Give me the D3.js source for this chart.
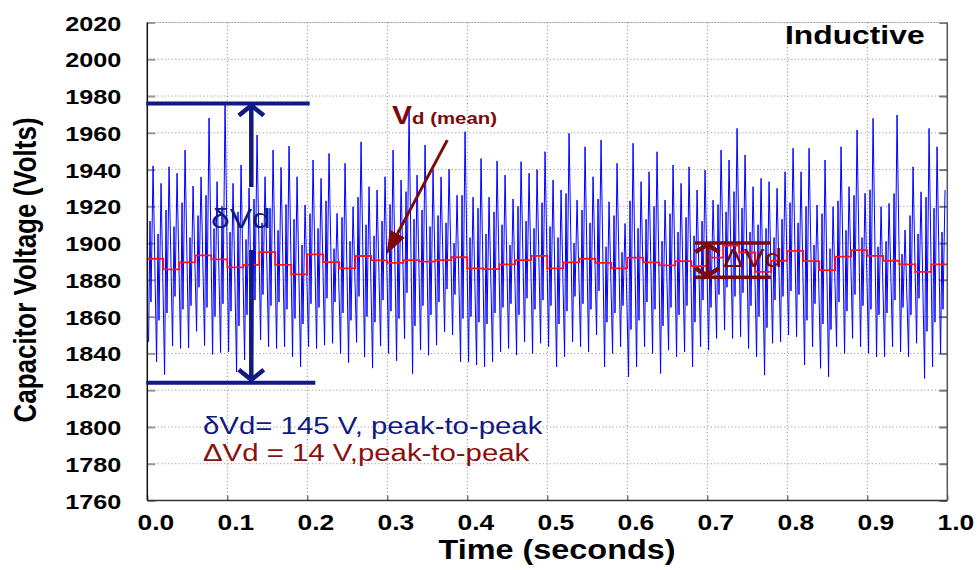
<!DOCTYPE html>
<html>
<head>
<meta charset="utf-8">
<script src="https://cdn.jsdelivr.net/npm/d3@7"></script>
<style>
  body { margin: 0; background: #fff; }
  svg { display: block; }
  text { font-family: "Liberation Sans", Arial, Helvetica, sans-serif; }
</style>
</head>
<body>
<svg id="chart" width="980" height="570"></svg>
<script>
// ---- data -------------------------------------------------------------
const xTicks = [0.0, 0.1, 0.2, 0.3, 0.4, 0.5, 0.6, 0.7, 0.8, 0.9, 1.0];
const yTicks = [1760, 1780, 1800, 1820, 1840, 1860, 1880, 1900, 1920, 1940, 1960, 1980, 2000, 2020];

// capacitor voltage, per 10 ms ripple cycle (V):
// trough, secondary crest, secondary dip, main crest
const cyclePeriod = 0.01;
const rippleTroughs = [
  1846.3, 1835.5, 1828.5, 1844, 1842.7, 1843, 1852, 1844.3, 1839.5, 1840.5,
  1840.9, 1830, 1836.4, 1840, 1847.3, 1843.6, 1842.7, 1843.6, 1838.2, 1832.7,
  1843.6, 1842.7, 1844.5, 1845.5, 1840, 1835, 1846, 1838, 1832, 1844,
  1840, 1836, 1848, 1829, 1842, 1839, 1844.5, 1851.8, 1850, 1835.5,
  1835.5, 1833.7, 1832.7, 1835.5, 1840.9, 1842.7, 1839.1, 1846.3, 1840, 1845.5,
  1843.6, 1832.7, 1838.2, 1846.3, 1843.6, 1840.9, 1850, 1832.7, 1840, 1843.6,
  1827.3, 1832.7, 1843.6, 1840, 1829.1, 1841.8, 1838.2, 1840.9, 1832.7, 1843.6,
  1841.8, 1848.2, 1852.7, 1848.2, 1849.1, 1842.7, 1838.2, 1828.2, 1845.5, 1846.3,
  1850, 1849.1, 1833.7, 1843.6, 1831.9, 1827.3, 1843.6, 1840, 1848.2, 1843.6,
  1840, 1838.2, 1838.2, 1843.6, 1840.9, 1838.2, 1845.5, 1826.4, 1832.7, 1840
];
const secondaryCrests = [
  1912, 1905, 1918, 1909, 1922, 1903, 1915, 1926, 1908, 1920,
  1906, 1917, 1902, 1924, 1911, 1919, 1907, 1921, 1913, 1899,
  1916, 1908, 1923, 1897, 1914, 1901, 1925, 1910, 1904, 1912,
  1921, 1907, 1928, 1913, 1918, 1909, 1915, 1911, 1900, 1926,
  1903, 1919, 1905, 1917, 1910, 1899, 1920, 1912, 1908, 1922,
  1909, 1903, 1927, 1900, 1918, 1911, 1924, 1898, 1915, 1895,
  1923, 1908, 1913, 1920, 1901, 1916, 1906, 1914, 1904, 1912,
  1898, 1921, 1917, 1928, 1919, 1906, 1910, 1908, 1903, 1913,
  1922, 1911, 1920, 1899, 1916, 1897, 1923, 1907, 1926, 1903,
  1929, 1898, 1901, 1927, 1894, 1915, 1905, 1925, 1919, 1906
];
const secondaryDips = [
  1868, 1858, 1862, 1871, 1864, 1866, 1876, 1865, 1860, 1867,
  1863, 1855, 1861, 1869, 1872, 1866, 1868, 1864, 1859, 1856,
  1867, 1865, 1870, 1868, 1862, 1858, 1871, 1860, 1857, 1869,
  1863, 1859, 1873, 1855, 1866, 1861, 1868, 1875, 1872, 1859,
  1860, 1857, 1856, 1862, 1865, 1867, 1861, 1870, 1864, 1869,
  1866, 1856, 1863, 1871, 1867, 1864, 1874, 1857, 1862, 1866,
  1853, 1858, 1868, 1864, 1855, 1865, 1861, 1866, 1857, 1869,
  1865, 1872, 1876, 1871, 1873, 1866, 1860, 1854, 1869, 1871,
  1874, 1872, 1858, 1867, 1856, 1853, 1868, 1863, 1872, 1866,
  1864, 1861, 1862, 1869, 1865, 1861, 1870, 1852, 1857, 1864
];
const ripplePeaks = [
  1942, 1932.5, 1941.5, 1938, 1950.6, 1931, 1936, 1968, 1933.4, 1975.5,
  1932.5, 1942.5, 1930, 1958.8, 1936.1, 1950.6, 1941.2, 1952.8, 1936.1, 1920.7,
  1945.2, 1935.2, 1948.8, 1916.2, 1943.4, 1919.8, 1955.1, 1930.7, 1928.9, 1936.1,
  1950.6, 1934.3, 1973.3, 1937, 1953.4, 1940, 1936, 1940.2, 1926, 1960.6,
  1925, 1946, 1925, 1944.7, 1937, 1924, 1944.3, 1938, 1940, 1949.7,
  1934.3, 1928.9, 1959.7, 1923.4, 1952.4, 1936.1, 1956.1, 1922.5, 1943.4, 1910.7,
  1954.3, 1933.4, 1938.8, 1949.7, 1923.4, 1942.5, 1932.5, 1941.5, 1928.9, 1939.7,
  1923.4, 1950.6, 1945.2, 1962.4, 1947.9, 1930.7, 1935.2, 1933.4, 1929.8, 1938.8,
  1951.6, 1938.8, 1951.6, 1920.7, 1945.2, 1919.8, 1952.4, 1930.7, 1961.5, 1927.1,
  1967.9, 1919.8, 1921.6, 1969.7, 1907.1, 1941.5, 1927.9, 1962.4, 1952.4, 1928.9
];
// position of each sample inside its cycle (fraction of the period)
const cyclePhases = [0.16, 0.34, 0.46, 0.72];

// mean capacitor voltage, held for 20 ms windows (V)
const meanWindow = 0.02;
const meanLevels = [
  1891.5, 1885.7, 1889.5, 1893.3, 1891.2, 1886.8, 1888.2, 1895.1, 1888.2, 1883.0,
  1893.9, 1889.7, 1886.3, 1893.0, 1890.6, 1889.3, 1890.8, 1889.9, 1890.8, 1892.3,
  1886.3, 1885.9, 1888.4, 1890.8, 1893.1, 1886.3, 1889.5, 1891.5, 1889.2, 1886.3,
  1892.1, 1889.5, 1887.9, 1890.2, 1887.5, 1892.1, 1898.6, 1894.9, 1884.4, 1890.4,
  1895.8, 1890.2, 1885.3, 1892.6, 1896.2, 1893.1, 1890.4, 1888.4, 1884.4, 1888.4
];

// annotation levels (V)
const rippleBand = [1976, 1824];   // δVd bracket
const meanBand = [1900, 1881.5];   // ΔVd bracket

// ---- layout -----------------------------------------------------------
const svg = d3.select("#chart");
const x = d3.scaleLinear().domain([0, 1]).range([147.3, 947.3]);
const y = d3.scaleLinear().domain([1760, 2020]).range([500.5, 22.5]);
const SX = 1.2; // horizontal text stretch

const navy = "#101a80";
const maroon = "#7d0a0a";

// gridlines
const grid = svg.append("g");
grid.selectAll("line.h").data(yTicks.slice(1, -1)).join("line")
  .attr("x1", x(0)).attr("x2", x(1))
  .attr("y1", d => y(d)).attr("y2", d => y(d))
  .attr("stroke", "#8a8a8a").attr("stroke-width", 1).attr("stroke-dasharray", "1,2.5");
grid.selectAll("line.v").data(xTicks.slice(1, -1)).join("line")
  .attr("x1", d => x(d)).attr("x2", d => x(d))
  .attr("y1", y(2020)).attr("y2", y(1760))
  .attr("stroke", "#8a8a8a").attr("stroke-width", 1).attr("stroke-dasharray", "1,2.5");

// inside tick marks
svg.append("g").attr("transform", `translate(${x(0)},0)`)
  .call(d3.axisRight(y).tickValues(yTicks).tickSize(8).tickFormat(""))
  .call(g => g.select(".domain").remove())
  .call(g => g.selectAll("line").attr("stroke", "#999").attr("stroke-width", 2));
svg.append("g").attr("transform", `translate(${x(1)},0)`)
  .call(d3.axisLeft(y).tickValues(yTicks).tickSize(8).tickFormat(""))
  .call(g => g.select(".domain").remove())
  .call(g => g.selectAll("line").attr("stroke", "#777").attr("stroke-width", 2));
svg.append("g").attr("transform", `translate(0,${y(1760)})`)
  .call(d3.axisTop(x).tickValues(xTicks).tickSize(5).tickFormat(""))
  .call(g => g.select(".domain").remove())
  .call(g => g.selectAll("line").attr("stroke", "#555").attr("stroke-width", 1.2));

// capacitor voltage trace
const ripplePts = [];
rippleTroughs.forEach((tr, k) => {
  const vals = [tr, secondaryCrests[k], secondaryDips[k], ripplePeaks[k]];
  vals.forEach((v, j) => ripplePts.push([(k + cyclePhases[j]) * cyclePeriod, v]));
});
svg.append("path")
  .datum(ripplePts)
  .attr("fill", "none")
  .attr("stroke", "#0000ff")
  .attr("stroke-width", 1)
  .attr("d", d3.line().x(d => x(d[0])).y(d => y(d[1])));

// mean voltage staircase
const meanPts = meanLevels.map((v, i) => [i * meanWindow, v]);
meanPts.push([1, meanLevels[meanLevels.length - 1]]);
svg.append("path")
  .datum(meanPts)
  .attr("fill", "none")
  .attr("stroke", "#ff1414")
  .attr("stroke-width", 1.8)
  .attr("d", d3.line().curve(d3.curveStepAfter).x(d => x(d[0])).y(d => y(d[1])));

// frame
const frame = svg.append("g").attr("fill", "none");
frame.append("line").attr("x1", x(0)).attr("x2", x(1)).attr("y1", y(2020)).attr("y2", y(2020))
  .attr("stroke", "#9a9a9a").attr("stroke-width", 1.2).attr("stroke-dasharray", "2,1");
frame.append("line").attr("x1", x(1)).attr("x2", x(1)).attr("y1", y(2020)).attr("y2", y(1760))
  .attr("stroke", "#555").attr("stroke-width", 1.5);
frame.append("line").attr("x1", x(0)).attr("x2", x(0)).attr("y1", y(2020)).attr("y2", y(1760))
  .attr("stroke", "#111").attr("stroke-width", 1.5);
frame.append("line").attr("x1", x(0)).attr("x2", x(1)).attr("y1", y(1760)).attr("y2", y(1760))
  .attr("stroke", "#333").attr("stroke-width", 1.5);

// tick labels via axes
svg.append("g").attr("transform", `translate(${x(0)},0)`)
  .call(d3.axisLeft(y).tickValues(yTicks).tickSize(0).tickFormat(d3.format("d")))
  .call(g => g.select(".domain").remove())
  .call(g => g.selectAll("text")
    .attr("x", -26 / SX).attr("dy", "0.36em")
    .attr("transform", `scale(${SX},1)`)
    .attr("font-size", 21).attr("font-weight", "bold").attr("fill", "#000")
    .attr("font-family", "Liberation Sans, Arial, sans-serif"));
svg.append("g").attr("transform", `translate(0,${y(1760)})`)
  .call(d3.axisBottom(x).tickValues(xTicks).tickSize(0).tickFormat(d3.format(".1f")))
  .call(g => g.select(".domain").remove())
  .call(g => g.selectAll("text")
    .attr("x", 8 / SX).attr("y", 29.5).attr("dy", 0)
    .attr("transform", `scale(${SX},1)`)
    .attr("font-size", 22).attr("font-weight", "bold").attr("fill", "#000")
    .attr("font-family", "Liberation Sans, Arial, sans-serif"));

// helper for stretched text
function label(px, py, str, size, weight, color, anchor, sx) {
  return svg.append("text")
    .attr("transform", `translate(${px},${py}) scale(${sx || SX},1)`)
    .attr("font-size", size).attr("font-weight", weight)
    .attr("fill", color).attr("text-anchor", anchor || "start")
    .text(str);
}

// axis titles
label(557, 559, "Time (seconds)", 27, "bold", "#000", "middle");
svg.append("text")
  .attr("transform", `translate(36,270) scale(${SX},1) rotate(-90)`)
  .attr("font-size", 26).attr("font-weight", "bold").attr("text-anchor", "middle")
  .attr("fill", "#000").text("Capacitor Voltage (Volts)");
label(785, 44, "Inductive", 26.5, "bold", "#000");

// δVd bracket
const ann = svg.append("g");
const xArrow = 0.13;
rippleBand.forEach((v, i) => {
  ann.append("line")
    .attr("x1", x(0) - 1).attr("x2", x(i === 0 ? 0.203 : 0.21))
    .attr("y1", y(v)).attr("y2", y(v))
    .attr("stroke", navy).attr("stroke-width", 4);
});
ann.append("line").attr("x1", x(xArrow)).attr("x2", x(xArrow))
  .attr("y1", y(rippleBand[0]) + 2).attr("y2", y(1930.5))
  .attr("stroke", navy).attr("stroke-width", 4.5);
ann.append("line").attr("x1", x(xArrow)).attr("x2", x(xArrow))
  .attr("y1", y(1896.2)).attr("y2", y(rippleBand[1]) - 3)
  .attr("stroke", navy).attr("stroke-width", 4.5);
ann.append("path")
  .attr("d", `M${x(xArrow) - 12.5},${y(rippleBand[0]) + 12} L${x(xArrow)},${y(rippleBand[0]) + 2} L${x(xArrow) + 12.5},${y(rippleBand[0]) + 12}`)
  .attr("fill", "none").attr("stroke", navy).attr("stroke-width", 4.5).attr("stroke-linejoin", "miter");
ann.append("path")
  .attr("d", `M${x(xArrow) - 12.5},${y(rippleBand[1]) - 13} L${x(xArrow)},${y(rippleBand[1]) - 3} L${x(xArrow) + 12.5},${y(rippleBand[1]) - 13}`)
  .attr("fill", "none").attr("stroke", navy).attr("stroke-width", 4.5).attr("stroke-linejoin", "miter");
label(211, 228, "δVd", 28, "normal", navy);

// ΔVd bracket
const xMean = 0.7;
meanBand.forEach(v => {
  ann.append("line")
    .attr("x1", x(0.6845)).attr("x2", x(0.7795))
    .attr("y1", y(v)).attr("y2", y(v))
    .attr("stroke", maroon).attr("stroke-width", 3.5);
});
ann.append("line").attr("x1", x(xMean)).attr("x2", x(xMean))
  .attr("y1", y(meanBand[0]) + 2).attr("y2", y(meanBand[1]) - 2)
  .attr("stroke", maroon).attr("stroke-width", 3.5);
ann.append("path")
  .attr("d", `M${x(xMean) - 12},${y(meanBand[0]) + 9} L${x(xMean)},${y(meanBand[0]) + 1.5} L${x(xMean) + 12},${y(meanBand[0]) + 9}`)
  .attr("fill", "none").attr("stroke", maroon).attr("stroke-width", 4.5);
ann.append("path")
  .attr("d", `M${x(xMean) - 12},${y(meanBand[1]) - 9} L${x(xMean)},${y(meanBand[1]) - 1.5} L${x(xMean) + 12},${y(meanBand[1]) - 9}`)
  .attr("fill", "none").attr("stroke", maroon).attr("stroke-width", 4.5);
label(723, 266.5, "ΔVd", 26, "normal", maroon);

// Vd (mean) pointer
const tip = [0.299, 1894];
const tail = [0.375, 1956];
const ang = Math.atan2(y(tip[1]) - y(tail[1]), x(tip[0]) - x(tail[0]));
const hl = 23, hw = 8.5;
const bx = x(tip[0]) - hl * Math.cos(ang), by = y(tip[1]) - hl * Math.sin(ang);
ann.append("line")
  .attr("x1", x(tail[0])).attr("y1", y(tail[1])).attr("x2", bx).attr("y2", by)
  .attr("stroke", maroon).attr("stroke-width", 3);
ann.append("path")
  .attr("d", `M${x(tip[0])},${y(tip[1])} L${bx + hw * Math.sin(ang)},${by - hw * Math.cos(ang)} L${bx - hw * Math.sin(ang)},${by + hw * Math.cos(ang)} Z`)
  .attr("fill", maroon);
const vm = svg.append("text")
  .attr("transform", `translate(392,124) scale(${SX},1)`)
  .attr("fill", maroon).attr("font-weight", "bold");
vm.append("tspan").attr("font-size", 25).text("V");
vm.append("tspan").attr("font-size", 17).text("d (mean)");

// summary lines
label(203, 433.5, "δVd= 145 V, peak-to-peak", 23.5, "normal", navy, "start", 1.25);
label(203, 460.5, "ΔVd = 14 V,peak-to-peak", 23.5, "normal", "#8a1010", "start", 1.25);
</script>
</body>
</html>
